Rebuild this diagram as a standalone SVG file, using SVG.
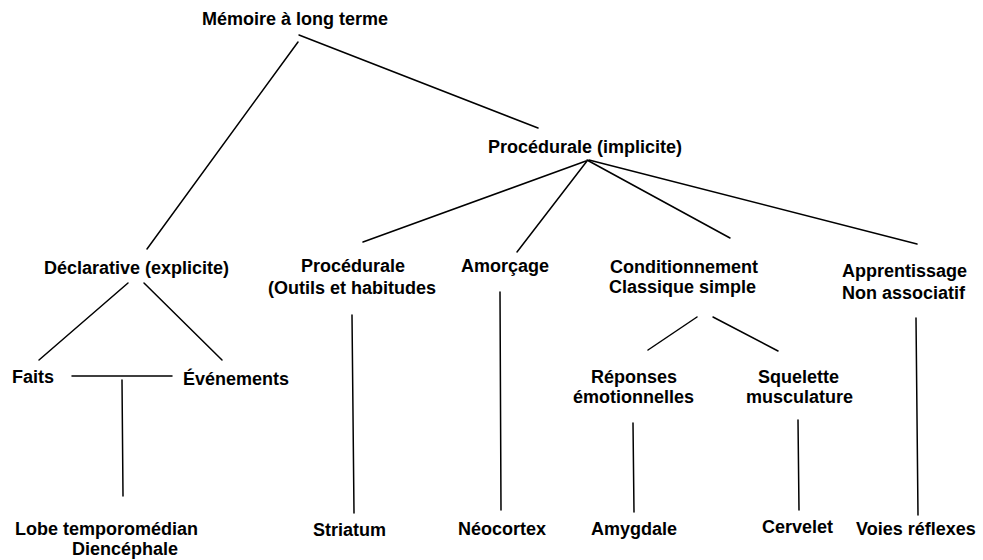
<svg xmlns="http://www.w3.org/2000/svg" width="983" height="560" viewBox="0 0 983 560">
<style>
text{font-family:"Liberation Sans",Arial,sans-serif;font-weight:bold;font-size:18px;fill:#000}
line{stroke:#000;stroke-width:1.5;stroke-linecap:round}
</style>
<rect width="983" height="560" fill="#fff"/>
<g id="connectors">
<line x1="298" y1="42" x2="147" y2="249"/>
<line x1="299" y1="35" x2="538" y2="128"/>
<line x1="586" y1="161" x2="363" y2="242"/>
<line x1="587" y1="161" x2="517" y2="252"/>
<line x1="587" y1="160" x2="730" y2="238"/>
<line x1="589" y1="160" x2="917" y2="244"/>
<line x1="128" y1="283" x2="39" y2="360"/>
<line x1="144" y1="283" x2="222" y2="360"/>
<line x1="72" y1="376" x2="172" y2="376"/>
<line x1="122" y1="380" x2="123" y2="496"/>
<line x1="352" y1="315" x2="354" y2="513"/>
<line x1="500" y1="292" x2="501" y2="510"/>
<line x1="697" y1="317" x2="648" y2="350"/>
<line x1="713" y1="317" x2="778" y2="351"/>
<line x1="633" y1="423" x2="634" y2="512"/>
<line x1="798" y1="420" x2="799" y2="510"/>
<line x1="916" y1="318" x2="918" y2="515"/>
</g>
<g id="n-root"><text x="202" y="25">Mémoire à long terme</text></g>
<g id="n-procedurale-implicite"><text x="488" y="153">Procédurale (implicite)</text></g>
<g id="n-declarative"><text x="44" y="274">Déclarative (explicite)</text></g>
<g id="n-procedurale-outils"><text x="301" y="272">Procédurale</text><text x="268" y="294">(Outils et habitudes</text></g>
<g id="n-amorcage"><text x="461" y="272">Amorçage</text></g>
<g id="n-conditionnement"><text x="610" y="273">Conditionnement</text><text x="609" y="293">Classique simple</text></g>
<g id="n-apprentissage"><text x="842" y="277">Apprentissage</text><text x="842" y="299">Non associatif</text></g>
<g id="n-faits"><text x="12" y="383">Faits</text></g>
<g id="n-evenements"><text x="183" y="385">Événements</text></g>
<g id="n-reponses"><text x="591" y="383">Réponses</text><text x="573" y="403">émotionnelles</text></g>
<g id="n-squelette"><text x="758" y="383">Squelette</text><text x="746" y="403">musculature</text></g>
<g id="n-lobe"><text x="15" y="535">Lobe temporomédian</text><text x="72" y="555">Diencéphale</text></g>
<g id="n-striatum"><text x="313" y="536">Striatum</text></g>
<g id="n-neocortex"><text x="458" y="535">Néocortex</text></g>
<g id="n-amygdale"><text x="591" y="535">Amygdale</text></g>
<g id="n-cervelet"><text x="762" y="533">Cervelet</text></g>
<g id="n-voies"><text x="856" y="535">Voies réflexes</text></g>
</svg>
